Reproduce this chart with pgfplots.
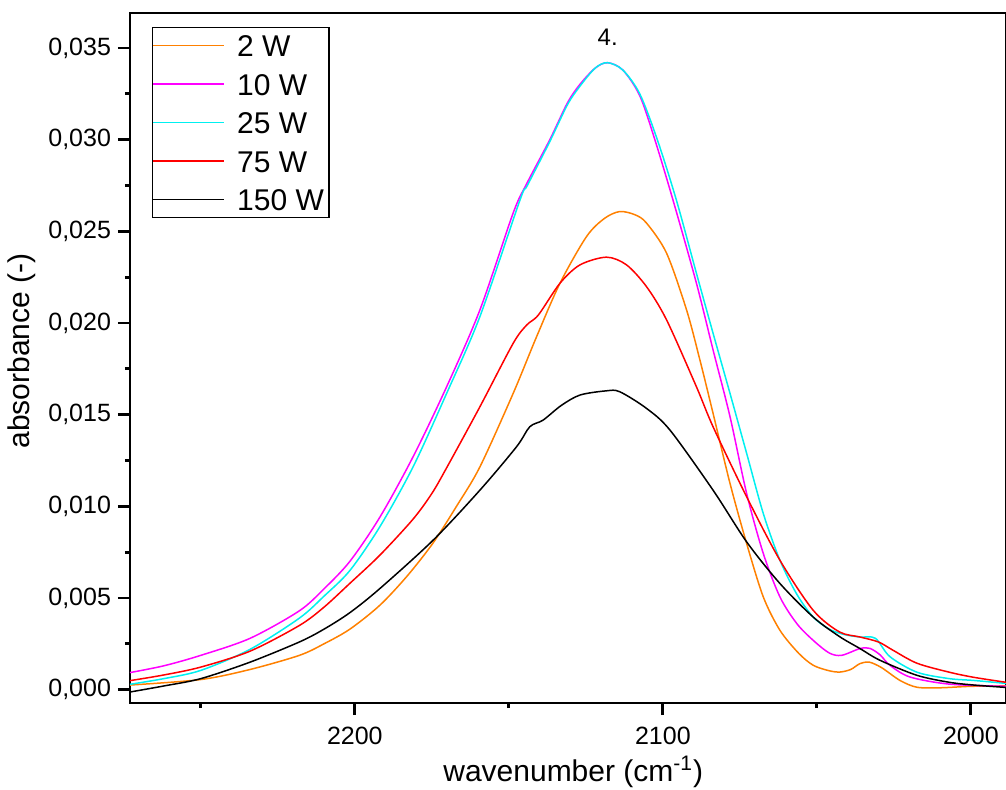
\documentclass[border=0pt]{standalone}
\usepackage{fontspec}
\setmainfont{Liberation Sans}
\usepackage{pgfplots}
\pgfplotsset{compat=1.18}
\definecolor{corange}{RGB}{255,128,0}
\definecolor{cmag}{RGB}{255,0,255}
\definecolor{ccyan}{RGB}{0,240,240}
\definecolor{cred}{RGB}{255,0,0}
\definecolor{cblack}{RGB}{0,0,0}
\begin{document}
\begin{tikzpicture}
\begin{axis}[
  name=ax,
  scale only axis,
  width=438pt, height=345pt,
  x dir=reverse,
  xmin=1988.6, xmax=2273,
  ymin=-0.00073, ymax=0.03691,
  xtick={2000,2100,2200},
  minor xtick={2050,2150,2250},
  ytick={0,0.005,0.010,0.015,0.020,0.025,0.030,0.035},
  minor ytick={0.0025,0.0075,0.0125,0.0175,0.0225,0.0275,0.0325},
  scaled y ticks=false,
  tick align=outside,
  tick pos=left,
  major tick length=6pt,
  minor tick length=2.5pt,
  every tick/.style={black, line width=1.4pt},
  axis line style={line width=1.4pt},
  /pgf/number format/assume math mode=true,
  yticklabel style={/pgf/number format/.cd, fixed, fixed zerofill, precision=3, use comma},
  xticklabel style={/pgf/number format/1000 sep={}, yshift=-2.5pt},
  ticklabel style={font=\fontsize{12.5}{15}\selectfont},
  xlabel={wavenumber (cm\textsuperscript{-1})},
  ylabel={absorbance (-)},
  every axis x label/.style={at={(axis description cs:0.506,0)}, yshift=-34.5pt, anchor=center, font=\fontsize{15}{18}\selectfont},
  every axis y label/.style={at={(axis description cs:0,0.51)}, xshift=-54pt, rotate=90, anchor=center, font=\fontsize{15}{18}\selectfont},
  legend style={at={(0.0251,0.9797)}, anchor=north west, draw=black, line width=0.7pt,
    font=\fontsize{15}{18}\selectfont, inner xsep=0pt, inner ysep=3.5pt, row sep=8.25pt, column sep=3.5pt,
    nodes={inner xsep=2.5pt, inner ysep=0pt, text height=11pt, text depth=0pt}},
  legend cell align=left,
  legend image code/.code={\draw[#1, line width=0.75pt] (0pt,0pt) -- (35.5pt,0pt);},
  every axis plot/.append style={line width=0.75pt, smooth, tension=0.5},
]
\addplot[color=corange] coordinates {
(2273,0.00025) (2250,0.00055) (2234,0.0011) (2218,0.00187) (2210,0.0025) (2201.6,0.0033) (2191.9,0.0046)
(2183,0.0062) (2174.6,0.0080) (2167,0.0100) (2159.4,0.01215) (2148.6,0.01616) (2141,0.01925)
(2133.4,0.02217) (2124.8,0.02471) (2119,0.0257) (2114,0.02608) (2109,0.0259) (2105.3,0.02545)
(2098.8,0.02381) (2092.3,0.02071) (2088,0.0180) (2083.7,0.01507) (2078.2,0.01125) (2072.8,0.00797)
(2067.4,0.00506) (2062,0.00324) (2056,0.0020) (2051.2,0.00133) (2046,0.00103) (2042.5,0.00096)
(2039,0.0011) (2036,0.00142) (2033,0.0015) (2029,0.0012) (2023,0.0005) (2017.5,0.00013)
(2010,0.0001) (2000,0.00018) (1988.6,0.0002)};
\addlegendentry{2 W}
\addplot[color=cmag] coordinates {
(2273,0.00093) (2262,0.0013) (2250,0.00187) (2234,0.0028) (2218,0.0043) (2210,0.0055) (2201.6,0.0070) (2191.9,0.0094)
(2181.1,0.0127) (2170.2,0.01652) (2159.4,0.02071) (2148.6,0.0260) (2144.2,0.0276) (2136.7,0.0300)
(2131,0.0320) (2127,0.0330) (2122,0.0339) (2118,0.0342) (2113,0.0338) (2107.5,0.0324)
(2102.6,0.0300) (2096.7,0.0267) (2089.1,0.02217) (2083.7,0.01853) (2078.2,0.01489) (2072.8,0.0107)
(2067.4,0.00743) (2062,0.00506) (2056.5,0.0036) (2051.2,0.00269) (2046,0.0020) (2042,0.00187)
(2036,0.00224) (2032.8,0.00225) (2029.5,0.0019) (2026.3,0.00133) (2019.8,0.00069) (2007,0.0003)
(1988.6,0.00018)};
\addlegendentry{10 W}
\addplot[color=ccyan] coordinates {
(2273,0.00029) (2262,0.0006) (2250,0.00105) (2234,0.0022) (2218,0.0039) (2210,0.0051) (2201.6,0.0065) (2191.9,0.00888)
(2181.1,0.01215) (2170.2,0.01616) (2159.4,0.02035) (2146.4,0.0267) (2144,0.0275) (2136.7,0.0299)
(2131,0.0319) (2127,0.0329) (2122,0.0339) (2118,0.0342) (2113,0.0338) (2107.5,0.0325)
(2101.8,0.0300) (2095.6,0.0267) (2089.1,0.02271) (2083.7,0.01944) (2078.2,0.01616) (2072.8,0.01289)
(2067.4,0.00961) (2062,0.00706) (2056.5,0.0052) (2051.2,0.00396) (2046,0.0033) (2041,0.0030)
(2036,0.00287) (2031,0.0028) (2026.3,0.0018) (2017.5,0.00095) (2007,0.0006) (1999,0.0005)
(1988.6,0.00034)};
\addlegendentry{25 W}
\addplot[color=cred] coordinates {
(2273,0.00049) (2262,0.0008) (2250,0.00123) (2234,0.0021) (2218,0.0035) (2210,0.0045) (2201.6,0.0058) (2191.9,0.00733)
(2181.1,0.0093) (2175,0.0107) (2170.2,0.0121) (2159.4,0.01543) (2148.6,0.01889) (2144.2,0.01989) (2140.4,0.02044)
(2133.4,0.02217) (2126.9,0.02317) (2118.3,0.02359) (2111.8,0.02317) (2105.3,0.02198) (2098.8,0.02017)
(2089.1,0.01652) (2083.7,0.01434) (2072.8,0.01052) (2062,0.00706) (2051.2,0.00433) (2042.7,0.00315)
(2036,0.00287) (2030,0.0026) (2025.3,0.00215) (2017.5,0.00144) (2007,0.00095) (1999,0.00067)
(1988.6,0.0004)};
\addlegendentry{75 W}
\addplot[color=cblack] coordinates {
(2273,-0.00013) (2262,0.0002) (2250,0.0006) (2234,0.0015) (2218,0.0026) (2210,0.0033) (2201.6,0.0042) (2191.9,0.00551)
(2174.6,0.00815) (2159.4,0.01088) (2147.5,0.01325) (2143.2,0.01434) (2138.9,0.0147) (2133,0.0155)
(2126.9,0.01607) (2118.3,0.0163) (2114,0.01625) (2105.3,0.01534) (2097.7,0.01416) (2083.7,0.01088)
(2072.8,0.00806) (2062,0.00579) (2051.2,0.00396) (2042.7,0.0029) (2036,0.00224) (2029.5,0.0016)
(2017.5,0.00078) (2007,0.0004) (1999,0.00025) (1988.6,0.00012)};
\addlegendentry{150 W}
\node[font=\fontsize{12}{14}\selectfont, anchor=center] at (axis cs:2117.9,0.03559) {4.};
\end{axis}
\pgfresetboundingbox
\path ([xshift=-65pt,yshift=-43pt]ax.south west) rectangle ([yshift=6.5pt]ax.north east);
\end{tikzpicture}
\end{document}
